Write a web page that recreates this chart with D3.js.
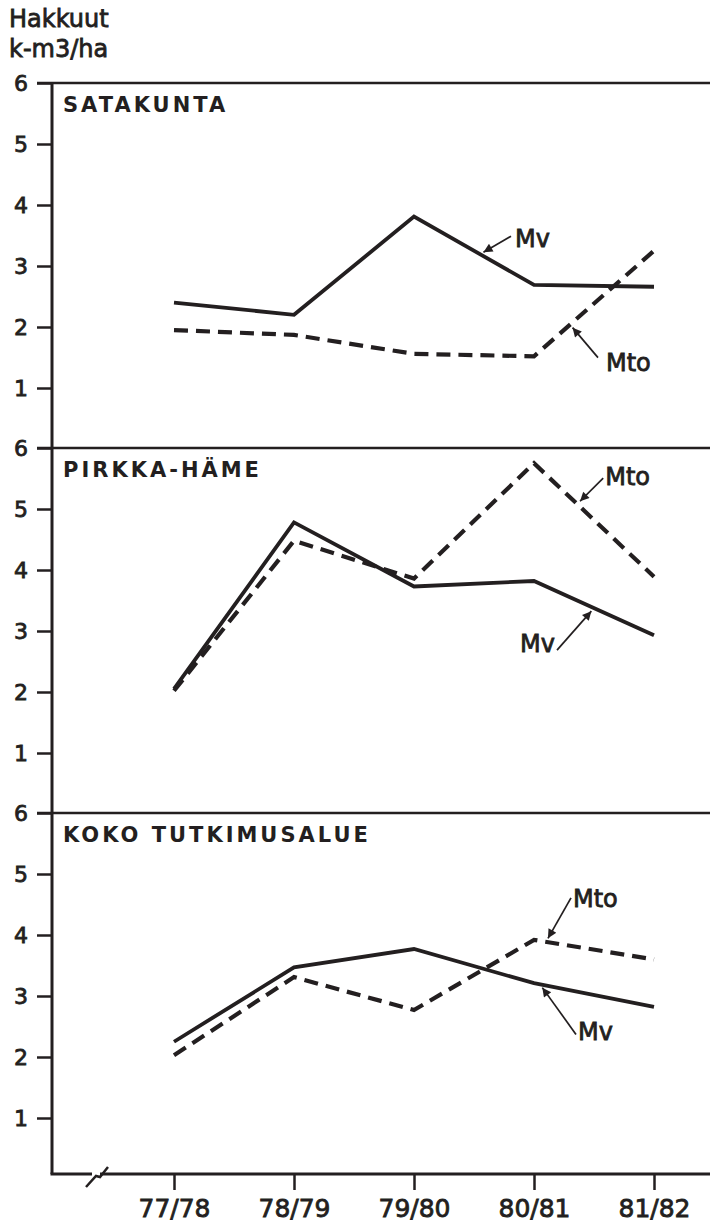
<!DOCTYPE html>
<html>
  <head>
    <meta charset="utf-8">
    <script src="https://d3js.org/d3.v7.min.js"></script>
    <style>
      body { margin: 0; background: #fff; }
      svg { display: block; }
      text { font-family: "DejaVu Sans", sans-serif; fill: #231f20; stroke: #231f20; stroke-width: 0.8px; }
    </style>
  </head>
  <body>
    <script>
      "use strict";

      // harvest, k-m3/ha per season
      var seasons = ["77/78", "78/79", "79/80", "80/81", "81/82"];
      var regions = ["SATAKUNTA", "PIRKKA-HÄME", "KOKO TUTKIMUSALUE"];
      var yTicks = [1, 2, 3, 4, 5, 6];

      var mvSatakunta  = [2.40, 2.20, 3.81, 2.69, 2.66];
      var mtoSatakunta = [1.95, 1.87, 1.56, 1.52, 3.25];
      var mvPirkka     = [2.05, 4.78, 3.73, 3.82, 2.93];
      var mtoPirkka    = [2.02, 4.48, 3.86, 5.75, 3.89];
      var mvKoko       = [2.25, 3.47, 3.77, 3.21, 2.82];
      var mtoKoko      = [2.03, 3.31, 2.77, 3.92, 3.60];

      var panels = [
        { name: regions[0], mv: mvSatakunta, mto: mtoSatakunta },
        { name: regions[1], mv: mvPirkka, mto: mtoPirkka },
        { name: regions[2], mv: mvKoko, mto: mtoKoko }
      ];

      // label arrows: point along a segment, offsets of arrow tail and text
      var notes = [
        { panel: 0, key: "mv",  text: "Mv",  seg: 2, t: 0.55, tail: [31, -18], label: [35, -7],  anchor: "start" },
        { panel: 0, key: "mto", text: "Mto", seg: 3, t: 0.30, tail: [28, 33],  label: [36, 46],  anchor: "start" },
        { panel: 1, key: "mto", text: "Mto", seg: 3, t: 0.36, tail: [26, -26], label: [28, -19], anchor: "start" },
        { panel: 1, key: "mv",  text: "Mv",  seg: 3, t: 0.50, tail: [-37, 42], label: [-39, 44], anchor: "end" },
        { panel: 2, key: "mto", text: "Mto", seg: 3, t: 0.10, tail: [25, -44], label: [27, -35], anchor: "start" },
        { panel: 2, key: "mv",  text: "Mv",  seg: 3, t: 0.05, tail: [36, 50],  label: [38, 56],  anchor: "start" }
      ];

      var width = 710, height = 1225;
      var axisX = 52, top0 = 83, panelH = 365, baseY = 1174;
      var ink = "#231f20";

      var svg = d3.select("body").append("svg")
          .attr("width", width)
          .attr("height", height);

      svg.append("defs").append("marker")
          .attr("id", "head")
          .attr("viewBox", "0 0 10 10")
          .attr("refX", 10).attr("refY", 5)
          .attr("markerUnits", "userSpaceOnUse")
          .attr("markerWidth", 12).attr("markerHeight", 9)
          .attr("orient", "auto")
        .append("path")
          .attr("d", "M0,0L10,5L0,10Z")
          .attr("fill", ink);

      var x = d3.scalePoint().domain(seasons).range([174, 654]);

      // axis title
      svg.append("text").attr("x", 9).attr("y", 27)
          .style("font-size", "24px").text("Hakkuut");
      svg.append("text").attr("x", 9).attr("y", 57)
          .style("font-size", "24px").text("k-m3/ha");

      panels.forEach(function(p, i) {
        var top = top0 + i * panelH;
        var y = d3.scaleLinear().domain([0, 6]).range([top + 6 * 61, top]);

        // y ticks
        var ya = svg.append("g")
            .attr("transform", "translate(" + axisX + ",0)")
            .call(d3.axisLeft(y).tickValues(yTicks).tickSize(15).tickPadding(9).tickFormat(d3.format("d")));
        ya.select(".domain").remove();
        ya.selectAll("line").attr("stroke", ink).attr("stroke-width", 2.5);
        ya.selectAll("text").style("font-size", "22px").attr("fill", ink);

        // panel top rule
        svg.append("line")
            .attr("x1", axisX - 15).attr("x2", width)
            .attr("y1", y(6)).attr("y2", y(6))
            .attr("stroke", ink).attr("stroke-width", 2.5);

        svg.append("text")
            .attr("x", 63).attr("y", top + 29)
            .style("font-size", "21px")
            .style("font-weight", "bold")
            .style("stroke-width", "0px")
            .style("letter-spacing", "3px")
            .text(p.name);

        var line = d3.line()
            .x(function(d, j) { return x(seasons[j]); })
            .y(function(d) { return y(d); });

        svg.append("path")
            .attr("d", line(p.mv))
            .attr("fill", "none")
            .attr("stroke", ink)
            .attr("stroke-width", 3.8);

        svg.append("path")
            .attr("d", line(p.mto))
            .attr("fill", "none")
            .attr("stroke", ink)
            .attr("stroke-width", 4.2)
            .attr("stroke-dasharray", "14,8");

        notes.filter(function(n) { return n.panel === i; }).forEach(function(n) {
          var vals = p[n.key];
          var x0 = x(seasons[n.seg]), x1 = x(seasons[n.seg + 1]);
          var y0 = y(vals[n.seg]), y1 = y(vals[n.seg + 1]);
          var tx = x0 + (x1 - x0) * n.t, ty = y0 + (y1 - y0) * n.t;
          var sx = tx + n.tail[0], sy = ty + n.tail[1];
          var len = Math.sqrt(n.tail[0] * n.tail[0] + n.tail[1] * n.tail[1]);
          var k = (len - 4) / len;

          svg.append("line")
              .attr("x1", sx).attr("y1", sy)
              .attr("x2", sx - n.tail[0] * k).attr("y2", sy - n.tail[1] * k)
              .attr("stroke", ink)
              .attr("stroke-width", 1.7)
              .attr("marker-end", "url(#head)");

          svg.append("text")
              .attr("x", tx + n.label[0]).attr("y", ty + n.label[1])
              .attr("text-anchor", n.anchor)
              .style("font-size", "24px")
              .text(n.text);
        });
      });

      // vertical axis
      svg.append("line")
          .attr("x1", axisX).attr("x2", axisX)
          .attr("y1", top0).attr("y2", baseY)
          .attr("stroke", ink).attr("stroke-width", 3);

      // x axis with break mark
      var xa = svg.append("g")
          .attr("transform", "translate(0," + baseY + ")")
          .call(d3.axisBottom(x).tickSize(16).tickPadding(9));
      xa.select(".domain").remove();
      xa.selectAll("line").attr("stroke", ink).attr("stroke-width", 2.5);
      xa.selectAll("text").style("font-size", "25px").attr("fill", ink);

      svg.append("path")
          .attr("d", "M" + (axisX - 1.5) + "," + baseY + "H92")
          .attr("fill", "none").attr("stroke", ink).attr("stroke-width", 3);
      svg.append("path")
          .attr("d", "M86," + (baseY + 13) + "L96," + (baseY + 2) + "L100," + (baseY + 3) + "L108," + (baseY - 7))
          .attr("fill", "none").attr("stroke", ink).attr("stroke-width", 2.5);
      svg.append("path")
          .attr("d", "M100," + baseY + "H" + width)
          .attr("fill", "none").attr("stroke", ink).attr("stroke-width", 3);
    </script>
  </body>
</html>
